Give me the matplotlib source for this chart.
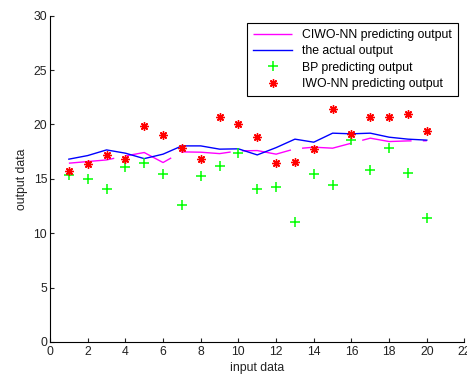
import matplotlib
matplotlib.use("Agg")
import matplotlib.pyplot as plt
import numpy as np

# sample index 1..20
x = np.arange(1, 21)

# values
ciwo_nn = [16.44, 16.59, 16.74, 17.11, 17.42, 16.50, 17.48, 17.45, 17.32, 17.57,
           17.60, 17.27, 17.76, 17.91, 17.82, 18.28, 18.74, 18.43, 18.49, 18.50]
actual = [16.81, 17.14, 17.66, 17.36, 16.86, 17.27, 18.03, 18.03, 17.73, 17.76,
          17.20, 17.87, 18.65, 18.37, 19.20, 19.14, 19.20, 18.83, 18.65, 18.56]
bp = [15.36, 15.00, 14.08, 16.13, 16.44, 15.43, 12.60, 15.30, 16.22, 17.36,
      14.06, 14.23, 11.07, 15.46, 14.47, 18.58, 15.82, 17.82, 15.57, 11.38]
iwo_nn = [15.76, 16.38, 17.18, 16.84, 19.87, 19.07, 17.82, 16.84, 20.73, 20.07,
          18.89, 16.44, 16.53, 17.73, 21.43, 19.11, 20.73, 20.73, 20.98, 19.38]

xticks = np.arange(0, 23, 2)
yticks = np.arange(0, 31, 5)

plt.rcParams['font.family'] = ['Liberation Sans', 'DejaVu Sans']
fs = 8.8

fig = plt.figure(figsize=(4.67, 3.74), dpi=100)
ax = fig.add_axes([0.1071, 0.0856, 0.8875, 0.8724])

# the magenta curve shows long dashes with short breaks in the source
ax.plot(x, ciwo_nn, color='#ff00ff', lw=1.0, linestyle=(3.1, (36, 8.1)),
        label='CIWO-NN predicting output')
ax.plot(x, actual, color='#0000ff', lw=1.0, label='the actual output')
ax.plot(x, bp, linestyle='none', marker='+', color='#00ff00', ms=7, mew=1.1,
        label='BP predicting output')
ax.plot(x, iwo_nn, linestyle='none', marker=(8, 2, 0), color='#ff0000', ms=6,
        mew=1.0, label='IWO-NN predicting output')

ax.set_xlim(0, 22)
ax.set_ylim(0, 30)
ax.set_xticks(xticks)
ax.set_yticks(yticks)
ax.tick_params(direction='in', length=3, width=0.8, labelsize=fs,
               colors='#222222')
ax.tick_params(axis='x', pad=3)
ax.tick_params(axis='y', pad=2)
for side in ['top', 'right']:
    ax.spines[side].set_visible(False)
for side in ['left', 'bottom']:
    ax.spines[side].set_linewidth(0.8)

ax.set_xlabel('input data', fontsize=fs, labelpad=3, color='#222222')
ax.set_ylabel('output data', fontsize=fs, labelpad=4, color='#222222')

leg = ax.legend(loc='upper right', bbox_to_anchor=(0.984, 0.978),
                borderaxespad=0, fontsize=fs, numpoints=1, handlelength=3.2,
                labelspacing=0.35, fancybox=False, framealpha=1,
                edgecolor='black', borderpad=0.5, handletextpad=0.8)
leg.get_frame().set_linewidth(0.8)

fig.savefig('out.png', dpi=100)
